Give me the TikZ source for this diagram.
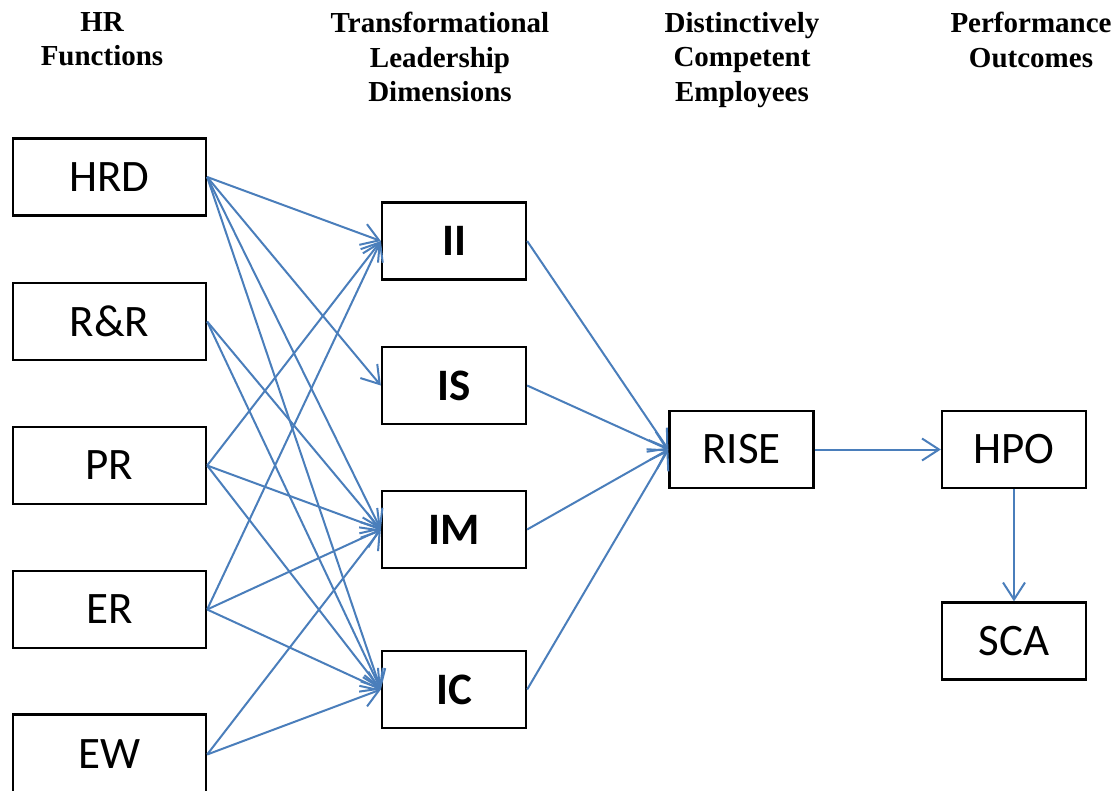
\documentclass[tikz,border=0pt]{standalone}
\usepackage{fontspec}
\setmainfont{Liberation Serif}
\newfontfamily\boxfont{Carlito}
\usetikzlibrary{arrows.meta}
\definecolor{linkblue}{HTML}{4A7EBB}
\tikzset{
  hdr/.style={anchor=north, inner sep=0pt, align=center, font=\fontsize{29}{34.5}\selectfont\bfseries},
  lbox/.style={draw=black, line width=2.3pt, minimum width=193pt, minimum height=77pt, inner sep=0pt, font=\boxfont\fontsize{45}{50}\selectfont},
  mbox/.style={lbox, minimum width=144pt, font=\boxfont\bfseries\fontsize{45}{50}\selectfont},
  rbox/.style={lbox, minimum width=144pt},
  ewbox/.style={lbox, minimum height=80pt},
  link/.style={draw=linkblue, line width=2pt, -{Straight Barb[length=17pt, width=22pt, line width=2pt]}}
}
\begin{document}
\begin{tikzpicture}[x=1pt, y=-1pt]
\clip (0,0) rectangle (1116,790);
\fill[white] (0,0) rectangle (1116,790);

\node[hdr] (h1) at (102,12) {HR\\Functions};
\node[hdr] (h2) at (440,12) {Transformational\\Leadership\\Dimensions};
\node[hdr] (h3) at (742,12) {Distinctively\\Competent\\Employees};
\node[hdr] (h4) at (1031,12) {Performance\\Outcomes};

\node[lbox] (HRD) at (109.5,177) {HRD};
\node[lbox] (RR)  at (109.5,321.5) {R\&R};
\node[lbox] (PR)  at (109.5,465.5) {PR};
\node[lbox] (ER)  at (109.5,609.5) {ER};
\node[ewbox] (EW)  at (109.5,754.5) {EW};

\node[mbox] (II) at (454,241) {II};
\node[mbox] (IS) at (454,385.5) {IS};
\node[mbox] (IM) at (454,529.5) {IM};
\node[mbox] (IC) at (454,689.5) {IC};

\node[rbox] (RISE) at (741.5,449.5) {RISE};
\node[rbox] (HPO)  at (1014,449.5) {HPO};
\node[rbox] (SCA)  at (1014,641) {SCA};

\foreach \s/\t in {HRD/II, HRD/IS, HRD/IM, HRD/IC, RR/IM, RR/IC, PR/II, PR/IM, PR/IC, ER/II, ER/IM, ER/IC, EW/IM, EW/IC}
  \draw[link] (\s.east) -- (\t.west);

\foreach \s in {II, IS, IM, IC}
  \draw[link] (\s.east) -- (RISE.west);

\draw[link] (RISE.east) -- (HPO.west);
\draw[link] (HPO.south) -- (SCA.north);
\end{tikzpicture}
\end{document}
